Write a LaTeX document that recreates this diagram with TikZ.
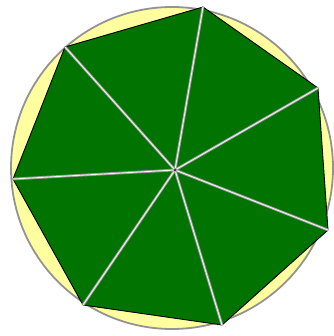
\documentclass[tikz,border=0pt]{standalone}
\definecolor{fillyellow}{RGB}{255,255,160}
\definecolor{polygreen}{RGB}{0,115,0}
\tikzset{
  spoke/.style={draw=gray!80, double=white!92!gray, line width=0.9pt, double distance=0.9pt},
  rim/.style={draw=gray!85, line width=1.8pt, fill=fillyellow},
  poly/.style={draw=black, line width=0.9pt, fill=polygreen, line join=miter}
}
\begin{document}
\begin{tikzpicture}[x=1pt,y=-1pt]
\useasboundingbox (0,0) rectangle (333,336);
\node[circle, rim, minimum size=322pt, inner sep=0pt] (circ) at (172,168) {};
\coordinate (A) at (203,7);
\coordinate (B) at (318,88);
\coordinate (C) at (328,230);
\coordinate (D) at (222,325);
\coordinate (E) at (83,305);
\coordinate (F) at (13,179);
\coordinate (G) at (65,47);
\coordinate (P) at (175,170);
\draw[poly] (A) -- (B) -- (C) -- (D) -- (E) -- (F) -- (G) -- cycle;
\foreach \v in {A,B,C,D,E,F,G} { \draw[spoke] (P) -- (\v); }
\fill[black!80] (P) circle (1.3pt);
\end{tikzpicture}
\end{document}
